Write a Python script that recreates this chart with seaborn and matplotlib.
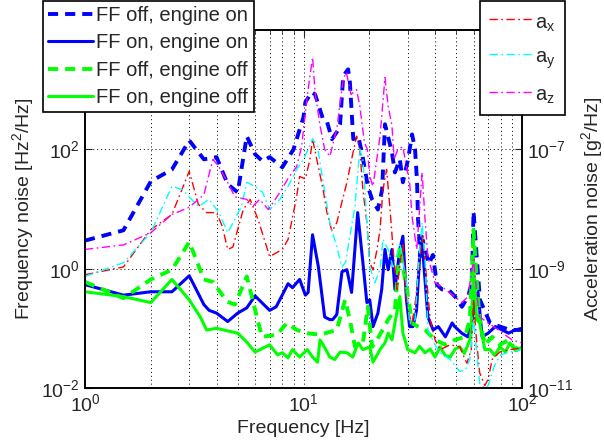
import matplotlib
matplotlib.use("Agg")
import matplotlib.pyplot as plt
from matplotlib.ticker import NullLocator, FixedLocator
import seaborn as sns

# FF off, engine on  [Hz^2/Hz]
f_off_on = [1, 1.5, 2, 2.5, 3, 3.5, 4, 4.5, 5, 5.5, 6, 6.5, 7, 8, 9, 10, 10.2, 10.9,
            11.3, 12.3, 12.8, 13.5, 14.2, 14.7, 15.2, 16.0, 16.3, 16.9, 17.8, 18.5,
            19.7, 20.6, 21.9, 22.9, 23.6, 25.4, 26.2, 27.6, 28.5, 30.1, 31.4, 32.4,
            33.1, 33.4, 34.2, 35.0, 36.0, 37.5, 39.1, 40.8, 43.0, 45.9, 49.4, 53.1,
            56.6, 59.0, 60.0, 62.2, 64.2, 71.4, 79.3, 88.1, 100]
psd_off_on = [2.95, 4.4, 29, 46, 141, 68, 74, 26, 19, 166, 83, 63, 74, 50, 100, 347, 617, 912,
              832, 316, 295, 148, 195, 263, 1700, 2190, 1350, 148, 166, 89,
              24, 14.5, 9.8, 21, 263, 89, 41, 68, 28, 68, 178, 100,
              28, 7.4, 1.6, 3.1, 2.1, 1.2, 1.7, 0.54, 0.45, 0.45, 0.34, 0.23,
              0.34, 0.58, 9.1, 1.4, 0.30, 0.123, 0.107, 0.094, 0.094]

# FF on, engine on
f_on_on = [1, 1.5, 2, 2.5, 3, 3.5, 3.7, 4.0, 4.5, 5.0, 5.5, 6.0, 7.0, 7.5, 8.5, 8.9, 9.6,
           10.2, 10.5, 11.0, 11.7, 12.5, 13.2, 13.6, 14.2, 15.0, 15.8, 16.6, 17.7, 18.7,
           19.5, 20.1, 20.8, 21.9, 22.8, 23.6, 24.4, 25.4, 26.2, 27.6, 28.5, 29.6, 30.6,
           31.7, 32.9, 34.0, 34.9, 35.3, 37.1, 39.2, 41.4, 44.6, 47.9, 49.2, 53.0, 56.5,
           58.6, 61.0, 62.9, 65.7, 70.0, 75.5, 81.1, 86.8, 93.0, 100]
psd_on_on = [0.54, 0.36, 0.41, 0.41, 0.76, 0.25, 0.20, 0.18, 0.13, 0.18, 0.22, 0.35, 0.20, 0.23,
             0.56, 0.48, 0.66, 0.36, 0.40, 3.7, 1.07, 0.155, 0.14, 0.14, 0.17, 0.89, 0.96,
             0.40, 8.7, 1.26, 0.27, 0.30, 0.107, 0.18, 0.45, 2.1, 0.96, 2.1, 0.45, 2.1, 3.5,
             0.30, 0.107, 0.107, 0.20, 1.6, 3.5, 1.6, 0.155, 0.094, 0.107, 0.072, 0.123,
             0.107, 0.083, 0.072, 0.107, 0.30, 0.40, 0.072, 0.083, 0.107, 0.094, 0.083,
             0.094, 0.10]

# FF off, engine off
f_off_off = [1, 1.5, 2, 2.5, 3, 3.5, 3.85, 4.47, 4.85, 5.5, 6.45, 7.55, 8.4, 9.3, 10.4, 11.9,
             14.2, 15.5, 16.3, 17.2, 18.7, 19.7, 20.6, 21.7, 24.4, 26.2, 27.6, 28.5, 29.6,
             30.6, 31.3, 33.4, 36, 40, 44.6, 49.2, 54.9, 57.7, 59.3, 60, 62, 64, 67.6, 73,
             79.2, 86.8, 93, 100]
psd_off_off = [0.60, 0.32, 0.66, 0.96, 2.8, 0.66, 0.60, 0.28, 0.25, 0.74, 0.072, 0.078, 0.123,
               0.094, 0.083, 0.078, 0.094, 0.30, 0.14, 0.049, 0.057, 0.23, 0.049, 0.064, 0.14,
               0.20, 2.3, 1.07, 0.50, 0.23, 0.123, 0.107, 0.094, 0.064, 0.053, 0.064, 0.072,
               0.14, 1.4, 4.5, 0.66, 0.14, 0.053, 0.072, 0.053, 0.064, 0.044, 0.057]

# FF on, engine off
f_on_off = [1, 1.5, 2, 2.5, 3, 3.37, 3.6, 4.0, 5.0, 5.5, 6.0, 7.0, 7.6, 8.0, 8.5, 8.9, 9.6,
            10.4, 11.0, 11.6, 11.9, 12.3, 13.2, 13.9, 14.7, 15.8, 16.8, 17.8, 18.7, 20.1,
            20.8, 22.4, 23.6, 24.4, 25.4, 26.2, 27.6, 28.5, 30.0, 32.4, 34, 36, 38, 40,
            42.2, 44.5, 46.9, 49.5, 51.9, 54.5, 57.7, 58.6, 60, 62, 64, 67.6, 71.5, 75,
            79.2, 84, 88, 94, 100]
psd_on_off = [0.41, 0.34, 0.27, 0.66, 0.30, 0.155, 0.094, 0.10, 0.083, 0.059, 0.040, 0.053,
              0.036, 0.039, 0.032, 0.044, 0.033, 0.044, 0.033, 0.027, 0.064, 0.053, 0.033,
              0.030, 0.040, 0.039, 0.033, 0.057, 0.044, 0.049, 0.027, 0.044, 0.057, 0.083,
              0.064, 0.123, 0.34, 0.083, 0.044, 0.039, 0.050, 0.039, 0.045, 0.033, 0.049,
              0.035, 0.033, 0.045, 0.049, 0.038, 0.064, 0.094, 1.3, 0.14, 0.123, 0.044,
              0.044, 0.035, 0.049, 0.040, 0.057, 0.042, 0.049]

# accelerometer PSDs [g^2/Hz]
f_ax = [1, 1.5, 2, 2.5, 3, 3.3, 3.6, 4.0, 4.25, 4.5, 4.75, 5.3, 5.7, 6.2, 7.0, 8.0, 8.5, 9.3,
        9.6, 10.2, 10.7, 11.0, 11.5, 12.3, 12.8, 13.5, 14.2, 15.1, 15.8, 16.6, 17.5, 18.1,
        18.7, 19.5, 20.1, 20.8, 21.7, 22.4, 23.1, 24.0, 24.9, 25.7, 26.8, 27.6, 28.5,
        29.6, 31.3, 32.6, 34.0, 34.9, 36.0, 38.0, 40.0, 42.2, 46.9, 51.9, 54.9, 56.0,
        58.6, 60.0, 62, 64, 67.6, 70, 73, 79, 88, 100]
acc_x = [7.9e-10, 1.07e-9, 4.5e-9, 8.1e-9, 4.3e-8, 1.2e-8, 8.7e-9, 8.7e-9, 5.1e-9, 2.1e-9,
         2.3e-9, 9.8e-9, 1.45e-8, 6.6e-9, 1.6e-9, 2.1e-9, 3.1e-9, 1.6e-8, 3.5e-8, 3.2e-8,
         6.8e-8, 1.5e-7, 6.8e-8, 2.1e-8, 8.7e-9, 4.2e-9, 5.9e-9, 1.45e-8, 2.8e-8, 6.8e-8,
         1.66e-7, 1e-7, 2.1e-8, 5.9e-9, 1.26e-9, 9.5e-10, 2.1e-9, 4.5e-9, 2.1e-8, 4.6e-8,
         9.8e-9, 2.1e-9, 4.5e-10, 1.17e-9, 2.5e-9, 2.7e-10, 1.15e-10, 3.0e-10, 1.4e-9,
         3.5e-9, 1.4e-9, 1.4e-10, 6.4e-11, 4.4e-11, 5.3e-11, 4.9e-11, 3.0e-11, 2.6e-11,
         4.4e-11, 3e-10, 6e-11, 1.8e-11, 1.1e-11, 1.4e-11, 3e-11, 4e-11, 4.4e-11, 4.7e-11]

f_ay = [1, 1.5, 2, 2.5, 2.8, 3.3, 3.7, 4.1, 4.5, 5.2, 5.5, 6.0, 6.5, 7.0, 7.8, 8.5, 9.3,
        10.0, 10.5, 11.0, 11.6, 12.3, 13.2, 14.2, 15.0, 15.6, 16.3, 17.2, 18.1, 18.7,
        19.5, 20.1, 21.2, 22.4, 23.1, 24.4, 25.7, 27.0, 27.6, 29.6, 30.6, 32.4, 34.0,
        34.9, 36.0, 37.1, 40, 42.2, 46.9, 51.9, 55, 57.7, 60, 62, 64, 67.6, 70, 75, 80,
        88, 100]
acc_y = [7.4e-10, 1.26e-9, 4.0e-9, 2.4e-8, 2.1e-8, 1.1e-8, 1.45e-8, 8.7e-9, 4.0e-9, 1.1e-8,
         2.8e-8, 2.4e-8, 1.9e-8, 9.8e-9, 1.45e-8, 2.4e-8, 4.6e-8, 6.8e-8, 1e-7, 1.5e-7,
         1.1e-7, 2.8e-8, 5.9e-9, 2.3e-9, 1.07e-9, 1.3e-9, 3.5e-9, 1.1e-8, 1e-7, 6.8e-8,
         5.9e-9, 1.07e-9, 5.8e-10, 9.7e-10, 3.1e-9, 2.1e-9, 1.07e-9, 1.9e-9, 2.7e-9,
         5.8e-10, 1.2e-10, 1.4e-10, 2.1e-9, 5.9e-9, 1.4e-9, 9.4e-11, 5.3e-11, 3.9e-11,
         3e-11, 1.9e-11, 2e-11, 3e-11, 1.4e-10, 4e-11, 1.2e-11, 1e-11, 1.1e-11, 2.4e-11,
         3.6e-11, 4e-11, 4.4e-11]

f_az = [1, 1.5, 2, 2.5, 3, 3.5, 3.85, 4.1, 4.5, 4.85, 5.5, 5.85, 6.3, 6.9, 7.8, 8.6, 9.3,
        9.8, 10.4, 11.0, 11.3, 11.9, 12.5, 13.2, 14.2, 15.2, 15.7, 16.5, 17.5, 18.1, 19.0,
        19.6, 20.1, 20.8, 22.4, 23.6, 24.4, 25.4, 26.0, 27.0, 28.5, 29.6, 30.6, 31.4,
        33.0, 34.9, 36.0, 37.1, 40.0, 44.6, 49.2, 53, 56.5, 60, 62, 64, 70, 78, 90, 100]
acc_z = [2.1e-9, 2.5e-9, 4.0e-9, 8.1e-9, 1.07e-8, 1.74e-8, 6.8e-8, 5.1e-8, 2.8e-8, 1.6e-8,
         1.45e-8, 1.1e-8, 1.45e-8, 9.8e-9, 1.9e-8, 3.5e-8, 5.1e-8, 1.1e-7, 7.8e-7, 3.5e-6,
         9e-7, 2.5e-7, 1e-7, 7.6e-8, 2.2e-7, 1.5e-6, 1.95e-6, 8.3e-7, 1e-6, 5.3e-7, 1.3e-7,
         1e-7, 3.5e-8, 2.4e-8, 1.66e-7, 1.6e-6, 5.3e-7, 2.5e-7, 6.8e-8, 1e-7, 1.1e-7,
         5.1e-8, 2.8e-8, 7.4e-9, 2.1e-9, 4.1e-8, 6.6e-9, 1.6e-9, 5.8e-10, 4.5e-10, 3.4e-10,
         2.7e-10, 3.4e-10, 1.4e-9, 4e-10, 1.55e-10, 1.23e-10, 9.4e-11, 6.4e-11, 5.7e-11]

ff_labels = ["FF off, engine on", "FF on, engine on", "FF off, engine off", "FF on, engine off"]
acc_labels = ["a$_x$", "a$_y$", "a$_z$"]

sns.set_style("white")
plt.rcParams["font.family"] = ["Liberation Sans", "DejaVu Sans"]
plt.rcParams["mathtext.default"] = "regular"
plt.rcParams["font.size"] = 14

fig = plt.figure(figsize=(6.04, 4.48), dpi=100)
ax = fig.add_axes([85 / 604, 1 - 388 / 448, 437 / 604, 358 / 448])
ax2 = ax.twinx()
for a in (ax, ax2):
    a.set_xscale("log")
    a.set_yscale("log")
ax.set_xlim(1, 100)
ax.set_ylim(1e-2, 1e4)
ax2.set_ylim(1e-11, 1e-5)

dash = (0, (2.6, 1.8))
dashdot = (0, (6, 2.5, 1.2, 2.5))
common = dict(estimator=None, sort=False, legend=False)
sns.lineplot(x=f_off_on, y=psd_off_on, ax=ax, color="#0000ff", lw=2.8, linestyle=dash, **common)
sns.lineplot(x=f_on_on, y=psd_on_on, ax=ax, color="#0000ff", lw=2.2, **common)
sns.lineplot(x=f_off_off, y=psd_off_off, ax=ax, color="#00ff00", lw=2.8, linestyle=dash, **common)
sns.lineplot(x=f_on_off, y=psd_on_off, ax=ax, color="#00ff00", lw=2.2, **common)
sns.lineplot(x=f_ax, y=acc_x, ax=ax2, color="#ff0000", lw=1.0, linestyle=dashdot, **common)
sns.lineplot(x=f_ay, y=acc_y, ax=ax2, color="#00ffff", lw=1.0, linestyle=dashdot, **common)
sns.lineplot(x=f_az, y=acc_z, ax=ax2, color="#ff00ff", lw=1.0, linestyle=dashdot, **common)

# ticks & grid
ax.yaxis.set_major_locator(FixedLocator([1e-2, 1, 1e2, 1e4]))
ax.yaxis.set_minor_locator(NullLocator())
ax2.yaxis.set_major_locator(FixedLocator([1e-11, 1e-9, 1e-7, 1e-5]))
ax2.yaxis.set_minor_locator(NullLocator())
ax.grid(True, which="both", axis="x", ls=(0, (1, 3)), color="k", lw=0.7)
ax.grid(True, which="major", axis="y", ls=(0, (1, 3)), color="k", lw=0.7)
ax.tick_params(which="both", direction="in", top=True, right=False, labelsize=14)
ax.tick_params(which="major", length=5)
ax.tick_params(which="minor", length=3)
ax2.tick_params(which="both", direction="in", labelsize=14, length=5)
for a in (ax, ax2):
    for s in a.spines.values():
        s.set_linewidth(1.2)
        s.set_color("k")

ax.set_xlabel("Frequency [Hz]", fontsize=14)
ax.set_ylabel("Frequency noise [Hz$^2$/Hz]", fontsize=14)
ax2.set_ylabel("Acceleration noise [g$^2$/Hz]", fontsize=14)

# legends
lg_kw = dict(fontsize=14.5, frameon=True, fancybox=False, framealpha=1, edgecolor="k",
             borderaxespad=0, handletextpad=0.15)
leg1 = ax2.legend(ax.get_lines()[:4], ff_labels, loc="upper left",
                  bbox_to_anchor=(-0.096, 1.081), handlelength=2.25, labelspacing=0.42,
                  borderpad=0.25, **lg_kw)
leg1.get_frame().set_linewidth(1.2)
ax2.add_artist(leg1)
leg2 = ax2.legend(ax2.get_lines()[:3], acc_labels, loc="upper right",
                  bbox_to_anchor=(1.098, 1.081), handlelength=2.15, labelspacing=0.55,
                  handleheight=1.4, borderpad=0.45, **lg_kw)
leg2.get_frame().set_linewidth(1.2)

fig.savefig("out.png", dpi=100)
